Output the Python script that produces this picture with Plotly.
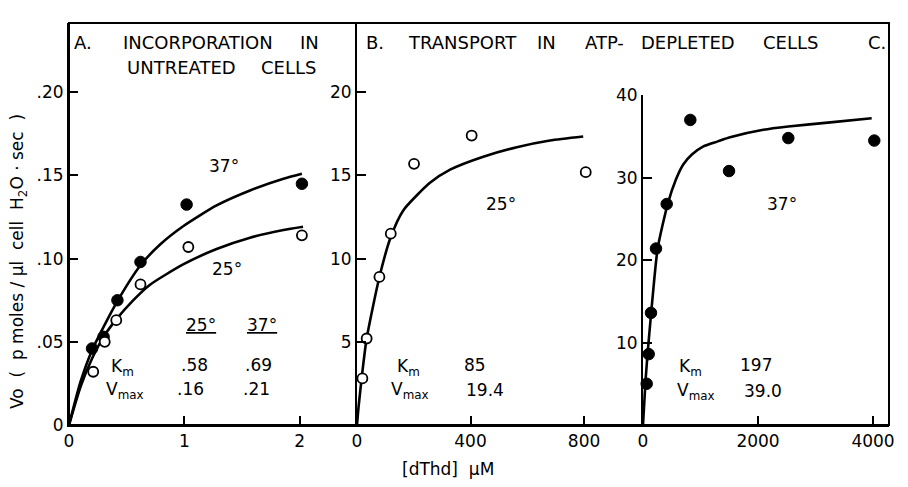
import plotly.graph_objects as go

# ---------------- data ----------------
# Panel A: incorporation in untreated cells
a_conc_37 = [0.20, 0.30, 0.42, 0.62, 1.02, 2.02]
a_v_37 = [0.046, 0.053, 0.075, 0.098, 0.1325, 0.145]
a_conc_25 = [0.21, 0.31, 0.41, 0.62, 1.035, 2.02]
a_v_25 = [0.032, 0.050, 0.063, 0.0845, 0.107, 0.114]
a_fit37_x = [0, 0.1, 0.2, 0.3, 0.42, 0.62, 0.79, 0.99, 1.28, 1.57, 1.86, 2.02]
a_fit37_y = [0, 0.026, 0.045, 0.059, 0.0745, 0.096, 0.1085, 0.1195, 0.132, 0.141, 0.148, 0.151]
a_fit25_x = [0, 0.1, 0.2, 0.3, 0.41, 0.55, 0.70, 0.99, 1.28, 1.57, 1.86, 2.03]
a_fit25_y = [0, 0.023, 0.040, 0.053, 0.0635, 0.0745, 0.0842, 0.0965, 0.1058, 0.1126, 0.1172, 0.1192]

# Panel B: transport in ATP-depleted cells, 25 deg
b_conc = [19, 34, 79, 119, 201, 404, 806]
b_v = [2.8, 5.2, 8.9, 11.5, 15.7, 17.4, 15.2]
b_fit_x = [0, 5, 19, 34, 79, 119, 163, 257, 328, 445, 563, 680, 797]
b_fit_y = [0, 1.0, 3.2, 5.2, 8.9, 11.3, 12.9, 14.56, 15.35, 16.13, 16.7, 17.1, 17.34]

# Panel C: transport in ATP-depleted cells, 37 deg
c_conc = [64, 99, 139, 226, 412, 823, 1496, 2527, 4022]
c_v = [5.0, 8.6, 13.6, 21.4, 26.8, 37.0, 30.8, 34.8, 34.5]
c_fit_x = [0, 45, 90, 150, 255, 429, 574, 700, 850, 1050, 1300, 1513, 2092, 2527, 3257, 3977]
c_fit_y = [0, 5.5, 9.5, 14.2, 21.4, 26.8, 29.8, 31.6, 32.8, 33.8, 34.4, 34.9, 35.8, 36.2, 36.7, 37.2]

# tick labels
a_yticks = [0, 0.05, 0.10, 0.15, 0.20]
a_ytext = ["0", ".05", ".10", ".15", ".20"]
b_yticks = [5, 10, 15, 20]
c_yticks = [10, 20, 30, 40]
a_xticks = [0, 1, 2]
b_xticks = [0, 400, 800]
c_xticks = [0, 2000, 4000]

# ---------------- layout geometry ----------------
OFF = 8                      # default page body margin
W, H = 908 - 2 * OFF, 487 - 2 * OFF
L, R, T, B = 69 - OFF, 908 - OFF - 889, 13 - OFF, (487 - OFF) - 425
PW, PH = W - L - R, H - T - B


def px(x):   # page pixel -> paper fraction
    return (x - OFF - L) / PW


def py(y):
    return (OFF + H - B - y) / PH


FONT = "DejaVu Sans"
fig = go.Figure()

line_style = dict(color="black", width=2.6, shape="spline", smoothing=0.6)
filled = dict(symbol="circle", size=11.5, color="black", line=dict(color="black", width=1))
opened = dict(symbol="circle", size=10, color="white", line=dict(color="black", width=1.8))

fig.add_trace(go.Scatter(x=a_fit37_x, y=a_fit37_y, mode="lines", line=line_style,
                         xaxis="x", yaxis="y", cliponaxis=False, hoverinfo="skip"))
fig.add_trace(go.Scatter(x=a_fit25_x, y=a_fit25_y, mode="lines", line=line_style,
                         xaxis="x", yaxis="y", cliponaxis=False, hoverinfo="skip"))
fig.add_trace(go.Scatter(x=a_conc_37, y=a_v_37, mode="markers", marker=filled,
                         xaxis="x", yaxis="y", cliponaxis=False, name="37°"))
fig.add_trace(go.Scatter(x=a_conc_25, y=a_v_25, mode="markers", marker=opened,
                         xaxis="x", yaxis="y", cliponaxis=False, name="25°"))
fig.add_trace(go.Scatter(x=b_fit_x, y=b_fit_y, mode="lines", line=line_style,
                         xaxis="x2", yaxis="y2", cliponaxis=False, hoverinfo="skip"))
fig.add_trace(go.Scatter(x=b_conc, y=b_v, mode="markers", marker=opened,
                         xaxis="x2", yaxis="y2", cliponaxis=False, name="25°"))
fig.add_trace(go.Scatter(x=c_fit_x, y=c_fit_y, mode="lines", line=line_style,
                         xaxis="x3", yaxis="y3", cliponaxis=False, hoverinfo="skip"))
fig.add_trace(go.Scatter(x=c_conc, y=c_v, mode="markers", marker=filled,
                         xaxis="x3", yaxis="y3", cliponaxis=False, name="37°"))

axis_common = dict(showline=True, linecolor="black", linewidth=2, ticks="inside",
                   ticklen=9, tickwidth=1.6, tickcolor="black", showgrid=False,
                   zeroline=False, tickfont=dict(family=FONT, size=17, color="black"),
                   fixedrange=True)

dA = [0, px(357)]
dB = [px(357), px(643)]
dC = [px(643), 1]

fig.update_layout(
    width=W, height=H,
    margin=dict(l=L, r=R, t=T, b=B, pad=0),
    paper_bgcolor="white", plot_bgcolor="white",
    showlegend=False,
    xaxis=dict(domain=dA, range=[0, 288 / 115.3], tickvals=a_xticks,
               ticktext=[str(v) for v in a_xticks], anchor="y", **axis_common),
    yaxis=dict(domain=[0, 1], range=[0, PH / 1705.0], tickvals=a_yticks,
               ticktext=a_ytext, anchor="x", **axis_common),
    xaxis2=dict(domain=dB, range=[0, 286 / 0.2838], tickvals=b_xticks,
                ticktext=[str(v) for v in b_xticks], anchor="y2", **axis_common),
    yaxis2=dict(domain=[0, 1], range=[0, PH / 17.05], tickvals=b_yticks,
                ticktext=[str(v) for v in b_yticks], anchor="x2", **axis_common),
    xaxis3=dict(domain=dC, range=[0, 246 / 0.0575], tickvals=c_xticks,
                ticktext=[str(v) for v in c_xticks], anchor="y3", **axis_common),
    yaxis3=dict(domain=[0, py(87)], range=[0, 40], tickvals=c_yticks,
                ticktext=[str(v) for v in c_yticks], anchor="x3", **axis_common),
)

fig.add_shape(type="rect", xref="paper", yref="paper", x0=0, x1=1, y0=0, y1=1,
              line=dict(color="black", width=2), layer="above")


def note(text, x, y, size=17, **kw):
    fig.add_annotation(text=text, xref="paper", yref="paper", x=px(x), y=py(y),
                       showarrow=False, xanchor=kw.pop("xanchor", "center"),
                       yanchor="middle", font=dict(family=FONT, size=size, color="black"),
                       **kw)


# panel titles
note("A.", 83, 33, 18)
note("INCORPORATION", 198, 33, 18)
note("IN", 309, 33, 18)
note("UNTREATED", 181, 59, 18)
note("CELLS", 288, 59, 18)
note("B.", 375, 33, 18)
note("TRANSPORT", 462, 33, 18)
note("IN", 546, 33, 18)
note("ATP-", 604, 33, 18)
note("DEPLETED", 688, 33, 18)
note("CELLS", 790, 33, 18)
note("C.", 877, 33, 18)

# curve labels
note("37°", 224, 160)
note("25°", 227, 265)
note("25°", 501, 199)
note("37°", 782, 199)

# constants tables
note("<u>25°</u>", 201, 323)
note("<u>37°</u>", 262, 323)
note("K<sub>m</sub>", 122, 366)
note(".58", 194, 364)
note(".69", 258, 364)
note("V<sub>max</sub>", 125, 390)
note(".16", 190, 388)
note(".21", 256, 388)

note("K<sub>m</sub>", 408, 366)
note("85", 475, 364)
note("V<sub>max</sub>", 410, 390)
note("19.4", 485, 389)

note("K<sub>m</sub>", 690, 366)
note("197", 756, 364)
note("V<sub>max</sub>", 696, 391)
note("39.0", 763, 390)

# axis titles
fig.add_annotation(text="Vo  (  p moles / µl  cell  H<sub>2</sub>O · sec  )",
                   xref="paper", yref="paper", x=px(18), y=py(258), textangle=-90,
                   showarrow=False, xanchor="center", yanchor="middle",
                   font=dict(family=FONT, size=17, color="black"))
note("[dThd]  µM", 448, 470, 17)

fig.write_html("out.html")
